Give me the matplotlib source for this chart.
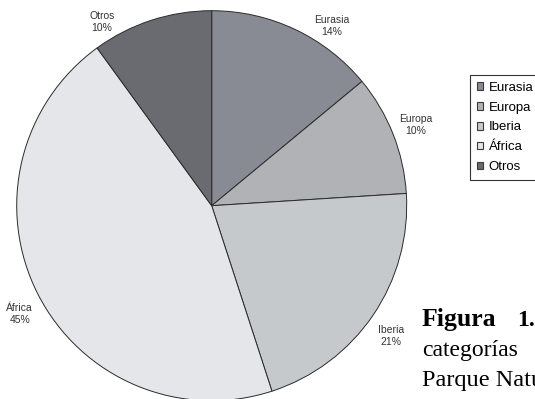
import matplotlib
matplotlib.use("Agg")
from matplotlib import pyplot as plt

regions = ["Eurasia", "Europa", "Iberia", "África", "Otros"]
percentages = [14, 10, 21, 45, 10]
slice_colors = ["#888b93", "#b1b2b6", "#c6c9cc", "#e5e6e9", "#696b70"]

plt.rcParams["font.family"] = ["Liberation Sans", "DejaVu Sans"]

W, H = 535, 399
fig = plt.figure(figsize=(W / 100, H / 100), dpi=100)

# pie area: centre (211.7, 205.7) px, radius 195 px
cx, cy, r = 211.7, 205.7, 195
ax = fig.add_axes([(cx - r) / W, (H - cy - r) / H, 2 * r / W, 2 * r / H])

labels = [f"{name}\n{pct}%" for name, pct in zip(regions, percentages)]
wedges, texts = ax.pie(
    percentages,
    labels=labels,
    colors=slice_colors,
    startangle=90,
    counterclock=False,
    labeldistance=1.125,
    radius=1,
    wedgeprops={"edgecolor": "#2b2b2b", "linewidth": 0.7},
    textprops={"fontsize": 7.5, "color": "#333333", "linespacing": 1.25},
)
for t in texts:
    t.set_horizontalalignment("center")
    t.set_verticalalignment("center")

# label placement nudged like the original chart
texts[0].set_position((0.615, 0.92))
texts[2].set_position((0.921, -0.668))
texts[3].set_position((-0.985, -0.556))
texts[4].set_position((-0.564, 0.944))

ax.set_xlim(-1, 1)
ax.set_ylim(-1, 1)
ax.axis("off")

leg = fig.legend(
    wedges,
    regions,
    loc="upper left",
    bbox_to_anchor=(470 / W, 1 - 75 / H),
    borderaxespad=0,
    fontsize=9.5,
    frameon=True,
    fancybox=False,
    shadow=False,
    handlelength=0.5,
    handleheight=0.5,
    handletextpad=0.4,
    labelspacing=0.6,
    borderpad=0.5,
)
leg.get_frame().set_edgecolor("#000000")
leg.get_frame().set_linewidth(0.8)
for h in leg.legend_handles:
    h.set_edgecolor("#3a3a3a")
    h.set_linewidth(0.8)

serif = ["Liberation Serif", "DejaVu Serif"]
fig.text(422 / W, 1 - 326 / H, "Figura", family=serif, fontweight="bold",
         fontsize=18.5, ha="left", va="baseline")
fig.text(517 / W, 1 - 326 / H, "1.", family=serif, fontweight="bold",
         fontsize=17, ha="left", va="baseline")
fig.text(422 / W, 1 - 356 / H, "categorías", family=serif,
         fontsize=17, ha="left", va="baseline")
fig.text(422 / W, 1 - 386 / H, "Parque Natural", family=serif,
         fontsize=17.5, ha="left", va="baseline")

fig.savefig("out.png", dpi=100)
